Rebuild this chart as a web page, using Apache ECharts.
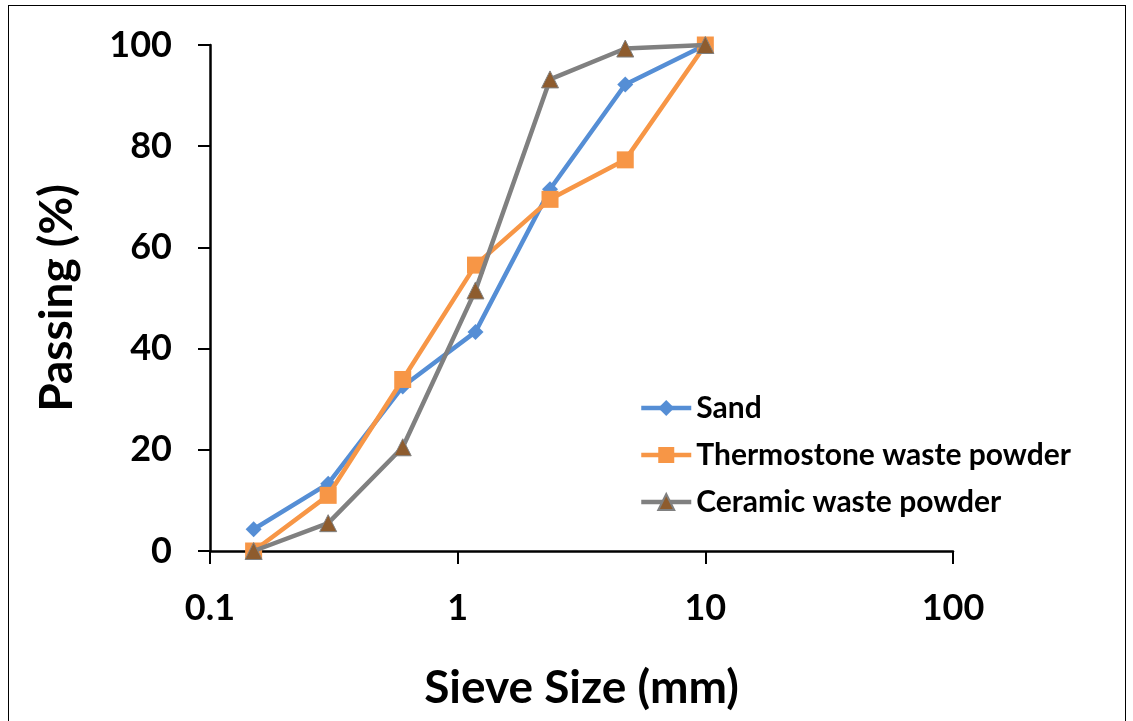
<!DOCTYPE html>
<html>
<head>
<meta charset="utf-8">
<script src="https://cdn.jsdelivr.net/npm/echarts@6/dist/echarts.min.js"></script>
<style>
  html, body { margin: 0; padding: 0; background: #fff; }
  #frame { position: absolute; left: 8px; top: 5px; width: 1118px; height: 730px; border: 1.5px solid #000; box-sizing: border-box; }
  #Graph1 { position: absolute; left: 0; top: 0; width: 1133px; height: 721px; }
</style>
</head>
<body>
<div id="frame"></div>
<div id="Graph1"></div>
<script>
// sieve sizes (mm) and percent passing
var sieveSizes = [0.15, 0.3, 0.6, 1.18, 2.36, 4.75, 10];
var sand = [4.3, 13.3, 32.5, 43.3, 71.5, 92.2, 100];
var thermostone = [0, 11, 33.9, 56.5, 69.5, 77.3, 100];
var ceramic = [0, 5.5, 20.5, 51.5, 93.2, 99.3, 100];
var seriesNames = ['Sand', 'Thermostone waste powder', 'Ceramic waste powder'];
var yTicks = [0, 20, 40, 60, 80, 100];

function pairs(vals) {
    return sieveSizes.map(function (s, i) { return [s, vals[i]]; });
}

var font = 'Lato, "Open Sans", sans-serif';
var myChart = echarts.init(document.querySelector('#Graph1'));

var option = {
    animation: false,
    grid: { left: 210, right: 180, top: 45, bottom: 170 },
    legend: {
        orient: 'vertical',
        left: 634,
        top: 388,
        itemWidth: 50,
        itemHeight: 20,
        itemGap: 17,
        lineStyle: { width: 4.5 },
        textStyle: { fontFamily: font, fontWeight: 'bold', fontSize: 30, color: '#000' },
        data: seriesNames
    },
    xAxis: {
        type: 'log',
        logBase: 10,
        min: 0.1,
        max: 100,
        name: 'Sieve Size (mm)',
        nameLocation: 'middle',
        nameGap: 114,
        nameTextStyle: { fontFamily: font, fontWeight: 'bold', fontSize: 46, color: '#000' },
        axisLine: { lineStyle: { color: '#000', width: 2.5 } },
        axisTick: { show: true, length: 13, lineStyle: { color: '#000', width: 2 } },
        axisLabel: { fontFamily: font, fontWeight: 'bold', fontSize: 36, color: '#000', margin: 39 },
        minorTick: { show: false },
        splitLine: { show: false }
    },
    yAxis: {
        type: 'value',
        min: 0,
        max: 100,
        interval: 20,
        name: 'Passing (%)',
        nameLocation: 'middle',
        nameGap: 130,
        nameTextStyle: { fontFamily: font, fontWeight: 'bold', fontSize: 46, color: '#000' },
        axisLine: { show: true, lineStyle: { color: '#000', width: 2.5 } },
        axisTick: { show: true, length: 12, lineStyle: { color: '#000', width: 2 } },
        axisLabel: {
            fontFamily: font, fontWeight: 'bold', fontSize: 36, color: '#000', margin: 38,
            formatter: function (v) { return yTicks.indexOf(v) >= 0 ? String(v) : ''; }
        },
        splitLine: { show: false }
    },
    series: [
        {
            name: seriesNames[0],
            type: 'line',
            data: pairs(sand),
            symbol: 'diamond',
            symbolSize: 16,
            lineStyle: { color: '#558ED5', width: 4.5 },
            itemStyle: { color: '#558ED5' },
            z: 3
        },
        {
            name: seriesNames[1],
            type: 'line',
            data: pairs(thermostone),
            symbol: 'rect',
            symbolSize: 17,
            lineStyle: { color: '#F79646', width: 4.5 },
            itemStyle: { color: '#F79646' },
            z: 4
        },
        {
            name: seriesNames[2],
            type: 'line',
            data: pairs(ceramic),
            symbol: 'triangle',
            symbolSize: 17,
            lineStyle: { color: '#808080', width: 4.5 },
            itemStyle: { color: '#8E5C2E', borderColor: '#808080', borderWidth: 1 },
            z: 5
        }
    ]
};

myChart.setOption(option);
</script>
</body>
</html>
